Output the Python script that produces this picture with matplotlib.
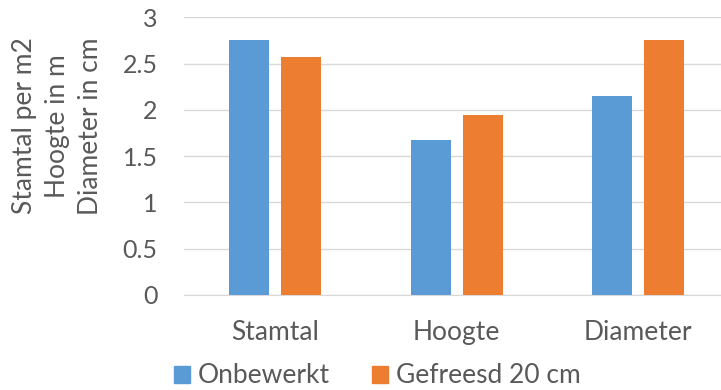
import numpy as np
import matplotlib.pyplot as plt
from matplotlib.patches import Patch

# Gemiddelden per behandeling
categorieen = ["Stamtal", "Hoogte", "Diameter"]
onbewerkt = [2.75, 1.67, 2.15]
gefreesd = [2.57, 1.94, 2.76]
reeksen = ["Onbewerkt", "Gefreesd 20 cm"]

blauw = "#5B9BD5"
oranje = "#ED7D31"
grijs = "#595959"

plt.rcParams["font.family"] = ["Lato", "DejaVu Sans"]

fig = plt.figure(figsize=(7.21, 3.90), dpi=100)
ax = fig.add_axes([0.2552, 0.2436, 0.756, 0.712])

x = np.arange(len(categorieen))
breedte = 0.22
ax.bar(x - 0.143, onbewerkt, breedte, color=blauw, zorder=3)
ax.bar(x + 0.143, gefreesd, breedte, color=oranje, zorder=3)

ax.set_xlim(-0.5, 2.5)
ax.set_ylim(0, 3)
ax.set_yticks(np.arange(0, 3.01, 0.5))
ax.set_yticklabels(["0", "0.5", "1", "1.5", "2", "2.5", "3"])
ax.set_xticks(x)
ax.set_xticklabels(categorieen)
ax.tick_params(axis="both", length=0, labelsize=18, colors=grijs)
ax.tick_params(axis="x", labelsize=19, pad=18)
ax.tick_params(axis="y", pad=19)

ax.grid(axis="y", color="#D9D9D9", linewidth=1, zorder=0)
for kant in ["top", "right", "left"]:
    ax.spines[kant].set_visible(False)
ax.spines["bottom"].set_color("#D9D9D9")

fig.text(0.080, 0.677, "Stamtal per m2\nHoogte in m\nDiameter in cm",
         rotation=90, ha="center", va="center", multialignment="center",
         fontsize=19, color=grijs, linespacing=1.4)

handles = [Patch(color=blauw), Patch(color=oranje)]
fig.legend(handles, reeksen, loc="center", bbox_to_anchor=(0.523, 0.036),
           ncol=2, frameon=False, fontsize=19, labelcolor=grijs,
           handlelength=0.6, handleheight=0.6, handletextpad=0.3,
           columnspacing=1.6)

plt.savefig("out.png", dpi=100)
